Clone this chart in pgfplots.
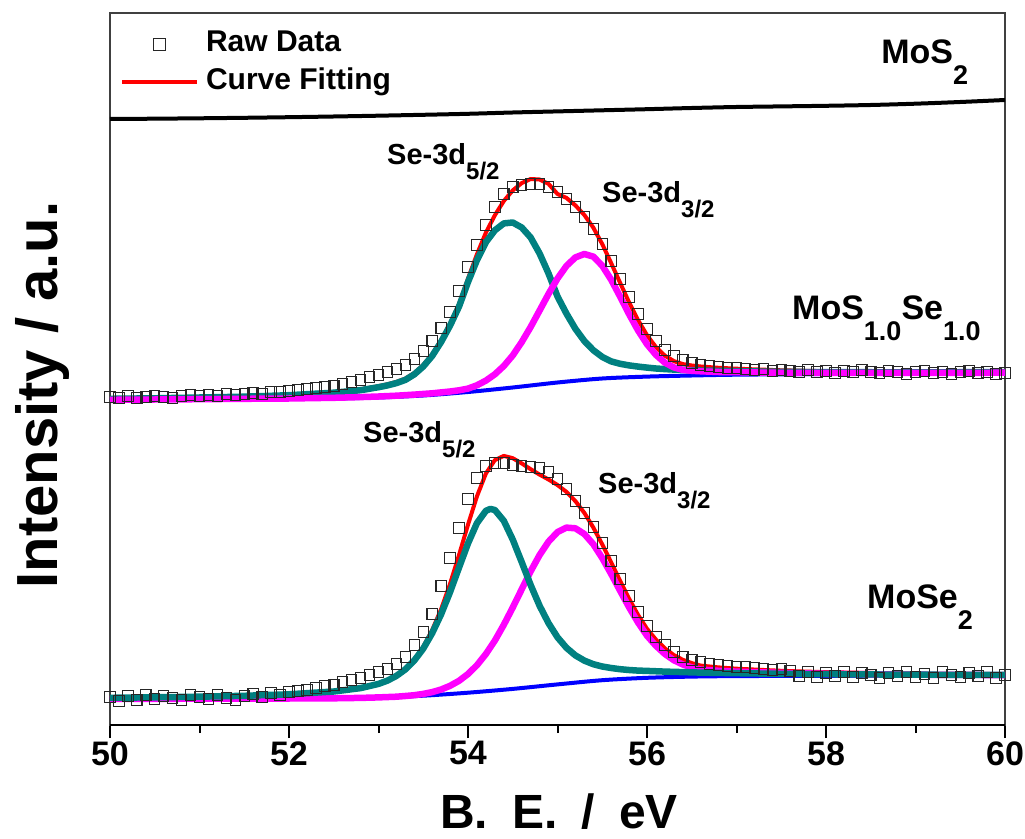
\documentclass[border=0pt]{standalone}
\usepackage{fontspec}
\setmainfont{Liberation Sans}
\usepackage{pgfplots}
\pgfplotsset{compat=1.18}
\usetikzlibrary{calc}
\definecolor{tealc}{RGB}{0,128,128}
\definecolor{magc}{RGB}{255,0,255}
\definecolor{redc}{RGB}{255,0,0}
\definecolor{bluec}{RGB}{0,0,255}
\newcommand{\fs}[1]{\fontsize{#1}{#1}\selectfont}
\newcommand{\subA}[1]{\raisebox{-15pt}{\fs{24}#1}}
\newcommand{\subB}[1]{\raisebox{-21pt}{\fs{27}#1}}
\pgfplotsset{
  sq legend/.style={legend image code/.code={\path[draw=none,fill=none] (0pt,0pt) -- (75pt,0pt); \draw[##1, mark size=6pt] plot coordinates {(37.5pt,0pt)};}},
  ln legend/.style={legend image code/.code={\draw[##1] (0pt,0pt) -- (75pt,0pt);}},
}
\begin{document}
\begin{tikzpicture}
\begin{axis}[name=ax, at={(0,0)}, anchor=south west,
  scale only axis, width=895pt, height=712pt,
  xmin=50, xmax=60, ymin=0, ymax=712, clip=false,
  axis line style={line width=1.5pt, black!75},
  xtick={50,52,54,56,58,60}, minor xtick={51,53,55,57,59},
  ytick=\empty, xtick pos=left, tick align=outside,
  major tick length=13pt, minor tick length=8pt,
  tick style={line width=2pt, black},
  /pgf/number format/assume math mode=true,
  xticklabel style={font=\fs{34}\bfseries},
  legend cell align=left,
  legend style={draw=none, fill=none, inner sep=0pt, outer sep=0pt,
    at={(axis cs:50.112,694.5)}, anchor=north west,
    font=\fs{30}\bfseries, row sep=10pt, column sep=7pt,
    nodes={inner sep=0pt, text height=21.5pt, text depth=6.5pt}},
]
\draw[line width=2.2pt, black] (rel axis cs:0,0) -- (rel axis cs:1,0);
% ---------- legend entries ----------
\addplot[only marks, mark=square, mark size=5.2pt, draw=black!85, line width=1.1pt, sq legend]
 coordinates {
(50.0,328)(50.1,327)(50.2,329)(50.3,327)(50.4,328)(50.5,329)(50.6,328)(50.7,327)(50.8,329)(50.9,330)
(51.0,329)(51.1,330)(51.2,329)(51.3,331)(51.4,330)(51.5,331)(51.6,332)(51.7,331)(51.8,333)(51.9,333)
(52.0,334)(52.1,335)(52.2,336)(52.3,337)(52.4,338)(52.5,339)(52.6,341)(52.7,343)(52.8,345)(52.9,348)
(53.0,350)(53.1,353)(53.2,356)(53.3,360)(53.4,366)(53.5,374)(53.6,384)(53.7,397)(53.8,413)(53.9,434)
(54.0,458)(54.1,480)(54.2,500)(54.3,518)(54.4,531)(54.5,538)(54.6,540)(54.7,541)(54.8,541)(54.9,538)
(55.0,533)(55.1,526)(55.2,518)(55.3,508)(55.4,496)(55.5,481)(55.6,464)(55.7,446)(55.8,428)(55.9,411)
(56.0,396)(56.1,384)(56.2,375)(56.3,369)(56.4,365)(56.5,362)(56.6,360)(56.7,359)(56.8,358)(56.9,357)
(57.0,357)(57.1,356)(57.2,355)(57.3,356)(57.4,354)(57.5,355)(57.6,354)(57.7,353)(57.8,355)(57.9,353)
(58.0,354)(58.1,352)(58.2,354)(58.3,353)(58.4,355)(58.5,353)(58.6,352)(58.7,354)(58.8,353)(58.9,351)
(59.0,353)(59.1,354)(59.2,352)(59.3,353)(59.4,351)(59.5,353)(59.6,354)(59.7,352)(59.8,353)(59.9,351)
(60.0,352)};
\addlegendentry{Raw Data}
\addplot[redc, line width=4pt, line join=round, ln legend]
 coordinates {
(50.0,326.4)(50.5,327.0)(51.0,327.8)(51.5,328.7)(52.0,330.3)(52.5,333.0)(52.8,335.7)(53.0,338.8)
(53.1,340.7)(53.2,343.1)(53.3,346.4)(53.4,352.0)(53.5,360.0)(53.6,370.7)(53.7,384.9)(53.8,401.5)
(53.9,421.0)(54.0,446.4)(54.1,470.7)(54.2,492.4)(54.3,509.7)(54.4,524.0)(54.5,534.6)(54.6,541.9)
(54.7,546.0)(54.8,545.5)(54.9,541.1)(55.0,531.0)(55.1,527.1)(55.2,519.6)(55.3,510.0)(55.4,497.4)
(55.5,480.9)(55.6,461.8)(55.7,442.1)(55.8,422.6)(55.9,404.9)(56.0,389.8)(56.1,377.9)(56.2,369.3)
(56.3,363.9)(56.4,360.9)(56.5,359.5)(56.6,358.5)(56.8,357.2)(57.0,356.3)(57.5,354.7)(58.0,353.8)
(59.0,353.2)(60.0,353.1)};
\addlegendentry{Curve Fitting}
% ---------- middle: MoS1.0Se1.0 ----------
\addplot[bluec, line width=4pt, smooth, forget plot] coordinates {
(50.0,325.0)(51.0,325.5)(52.0,326.0)(52.5,326.5)(53.0,327.5)(53.5,329.5)(54.0,333.0)(54.5,337.5)
(55.0,342.5)(55.5,346.5)(56.0,348.4)(56.5,349.5)(57.0,350.3)(58.0,351.0)(59.0,351.5)(60.0,352.0)};
\addplot[tealc, line width=6.5pt, line join=round, forget plot] coordinates {
(50.0,326.2)(50.5,326.7)(51.0,327.5)(51.5,328.3)(52.0,329.8)(52.5,332.3)(52.8,334.8)(53.0,337.8)
(53.1,339.6)(53.2,341.9)(53.3,345.1)(53.4,350.6)(53.5,358.5)(53.6,369.1)(53.7,383.1)(53.8,399.5)
(53.9,418.5)(54.0,443.0)(54.1,464.9)(54.2,482.8)(54.3,494.7)(54.4,501.6)(54.5,502.5)(54.6,497.5)
(54.7,487.5)(54.8,471.5)(54.9,451.5)(55.0,428.5)(55.1,411.4)(55.2,396.2)(55.3,384.0)(55.4,374.8)
(55.5,368.1)(55.6,363.6)(55.7,361.2)(55.8,359.6)(55.9,358.4)(56.0,357.4)(56.1,356.5)(56.2,355.9)
(56.3,355.4)(56.4,355.1)(56.5,354.8)(56.6,354.5)(56.8,354.2)(57.0,353.8)(57.5,353.2)(58.0,352.8)
(59.0,352.7)(60.0,352.8)};
\addplot[magc, line width=6.5pt, line join=round, forget plot] coordinates {
(50.0,325.2)(50.5,325.5)(51.0,325.8)(51.5,326.2)(52.0,326.5)(52.5,327.2)(52.8,327.9)(53.0,328.5)
(53.2,329.3)(53.4,330.4)(53.6,331.7)(53.8,333.5)(53.9,334.7)(54.0,336.4)(54.1,339.7)(54.2,344.4)
(54.3,350.7)(54.4,359.0)(54.5,369.6)(54.6,382.9)(54.7,398.0)(54.8,414.5)(54.9,431.1)(55.0,446.5)
(55.1,459.1)(55.2,467.6)(55.3,471.0)(55.4,468.4)(55.5,459.3)(55.6,445.2)(55.7,428.3)(55.8,410.8)
(55.9,394.6)(56.0,380.8)(56.1,370.1)(56.2,362.3)(56.3,357.6)(56.4,355.1)(56.5,354.2)(56.6,353.7)
(56.8,353.0)(57.0,352.8)(57.5,352.2)(58.0,352.0)(59.0,352.0)(60.0,352.3)};
% ---------- bottom: MoSe2 ----------
\addplot[only marks, mark=square, mark size=5.2pt, draw=black!85, line width=1.1pt, forget plot]
 coordinates {
(50.0,28)(50.1,24)(50.2,29)(50.3,25)(50.4,30)(50.5,26)(50.6,29)(50.7,27)(50.8,25)(50.9,30)
(51.0,28)(51.1,26)(51.2,30)(51.3,27)(51.4,25)(51.5,29)(51.6,31)(51.7,28)(51.8,32)(51.9,30)
(52.0,33)(52.1,34)(52.2,35)(52.3,37)(52.4,39)(52.5,40)(52.6,43)(52.7,45)(52.8,47)(52.9,50)
(53.0,53)(53.1,56)(53.2,61)(53.3,68)(53.4,80)(53.5,93)(53.6,111)(53.7,139)(53.8,167)(53.9,197)
(54.0,226)(54.1,247)(54.2,259)(54.3,262)(54.4,262)(54.5,260)(54.6,259)(54.7,258)(54.8,257)(54.9,253)
(55.0,246)(55.1,236)(55.2,224)(55.3,212)(55.4,198)(55.5,182)(55.6,164)(55.7,146)(55.8,129)(55.9,113)
(56.0,99)(56.1,88)(56.2,80)(56.3,73)(56.4,68)(56.5,65)(56.6,63)(56.7,61)(56.8,60)(56.9,59)
(57.0,58)(57.1,58)(57.2,57)(57.3,56)(57.4,55)(57.5,56)(57.6,54)(57.7,49)(57.8,53)(57.9,48)
(58.0,52)(58.1,49)(58.2,53)(58.3,48)(58.4,52)(58.5,50)(58.6,47)(58.7,52)(58.8,49)(58.9,53)
(59.0,48)(59.1,51)(59.2,47)(59.3,53)(59.4,50)(59.5,48)(59.6,52)(59.7,49)(59.8,53)(59.9,47)
(60.0,50)};
\addplot[redc, line width=4pt, line join=round, forget plot] coordinates {
(50.0,27.3)(50.5,27.8)(51.0,28.4)(51.5,29.3)(52.0,30.8)(52.5,33.6)(52.8,37.0)(53.0,41.3)
(53.1,44.6)(53.2,49.4)(53.3,56.2)(53.4,65.5)(53.5,78.2)(53.6,95.0)(53.7,115.9)(53.8,141.3)
(53.9,170.1)(54.0,200.3)(54.1,228.7)(54.2,251.5)(54.3,264.9)(54.4,269.1)(54.5,266.8)(54.6,261.6)
(54.7,255.8)(54.8,250.4)(54.9,245.5)(55.0,240.0)(55.1,233.1)(55.2,223.9)(55.3,212.1)(55.4,197.5)
(55.5,180.6)(55.6,162.6)(55.7,144.1)(55.8,126.3)(55.9,110.1)(56.0,96.2)(56.1,85.4)(56.2,76.6)
(56.3,69.9)(56.4,65.2)(56.5,61.9)(56.6,59.4)(56.8,57.6)(57.0,56.3)(57.5,54.2)(58.0,52.8)
(59.0,51.3)(60.0,50.6)};
\addplot[bluec, line width=4pt, smooth, forget plot] coordinates {
(50.0,26.0)(51.0,26.2)(52.0,26.4)(52.5,26.6)(53.0,27.4)(53.5,29.3)(54.0,32.3)(54.5,36.1)
(55.0,40.6)(55.5,44.8)(56.0,47.2)(56.5,48.4)(57.0,48.9)(58.0,49.2)(59.0,49.3)(60.0,49.4)};
\addplot[magc, line width=6.5pt, line join=round, forget plot] coordinates {
(50.0,26.1)(51.0,26.3)(52.0,26.5)(52.5,26.7)(52.8,27.1)(53.0,27.6)(53.2,28.3)(53.3,29.0)
(53.4,29.8)(53.5,31.1)(53.6,32.9)(53.7,35.5)(53.8,39.2)(53.9,44.2)(54.0,51.0)(54.1,59.8)
(54.2,71.0)(54.3,84.4)(54.4,100.2)(54.5,117.5)(54.6,135.7)(54.7,153.7)(54.8,170.0)(54.9,183.4)
(55.0,192.9)(55.1,197.4)(55.2,196.7)(55.3,191.0)(55.4,180.8)(55.5,166.9)(55.6,151.0)(55.7,134.2)
(55.8,117.7)(55.9,102.5)(56.0,89.3)(56.1,79.2)(56.2,71.0)(56.3,64.8)(56.4,60.5)(56.5,57.6)
(56.6,55.5)(56.8,54.2)(57.0,53.4)(57.5,52.1)(58.0,51.2)(59.0,50.3)(60.0,49.9)};
\addplot[tealc, line width=6.5pt, line join=round, forget plot] coordinates {
(50.0,27.2)(50.5,27.7)(51.0,28.3)(51.5,29.2)(52.0,30.7)(52.5,33.5)(52.8,36.9)(53.0,41.1)
(53.1,44.4)(53.2,49.1)(53.3,55.6)(53.4,64.5)(53.5,76.4)(53.6,91.9)(53.7,110.8)(53.8,133.1)
(53.9,157.5)(54.0,181.6)(54.1,201.9)(54.2,214.2)(54.25,216.1)(54.3,215.0)(54.4,204.2)(54.5,185.4)
(54.6,162.9)(54.7,140.0)(54.8,119.2)(54.9,101.8)(55.0,87.7)(55.1,77.2)(55.2,69.6)(55.3,64.4)
(55.4,60.8)(55.5,58.5)(55.6,57.0)(55.7,55.8)(55.8,55.0)(55.9,54.4)(56.0,54.1)(56.2,53.4)
(56.4,52.9)(56.6,52.4)(57.0,51.8)(57.5,51.2)(58.0,50.8)(59.0,50.3)(60.0,50.1)};
% ---------- top: MoS2 ----------
\addplot[black, line width=4pt, smooth, forget plot] coordinates {
(50.0,606.0)(50.5,606.3)(51.0,606.7)(51.5,607.2)(52.0,607.8)(52.5,608.5)(53.0,609.3)(53.5,610.2)
(54.0,611.2)(54.5,612.5)(55.0,613.6)(55.5,614.7)(56.0,615.8)(56.5,617.0)(57.0,618.0)(57.5,618.6)
(58.0,619.2)(58.5,620.0)(59.0,621.3)(59.5,623.0)(60.0,625.0)};
% ---------- labels ----------
\node[anchor=base west, inner sep=0pt, font=\fs{34}\bfseries] at (axis cs:58.615,661) {MoS\subB{2}};
\node[anchor=base west, inner sep=0pt, font=\fs{29}\bfseries] at (axis cs:53.095,560) {Se-3d\subA{5/2}};
\node[anchor=base west, inner sep=0pt, font=\fs{29}\bfseries] at (axis cs:55.497,522) {Se-3d\subA{3/2}};
\node[anchor=base west, inner sep=0pt, font=\fs{34}\bfseries] at (axis cs:57.62,405) {MoS\subB{1.0}Se\subB{1.0}};
\node[anchor=base west, inner sep=0pt, font=\fs{29}\bfseries] at (axis cs:52.827,282) {Se-3d\subA{5/2}};
\node[anchor=base west, inner sep=0pt, font=\fs{29}\bfseries] at (axis cs:55.453,232) {Se-3d\subA{3/2}};
\node[anchor=base west, inner sep=0pt, font=\fs{34}\bfseries] at (axis cs:58.458,117) {MoSe\subB{2}};
\node[rotate=90, anchor=base, inner sep=0pt, font=\fs{58}\bfseries] at (axis description cs:-0.0592,0.4635) {Intensity / a.u.};
\node[anchor=base, inner sep=0pt, font=\fs{48}\bfseries] at (axis description cs:0.5017,-0.1447) {B.\hspace{24pt}E.\hspace{24pt}/\hspace{24pt}eV};
\end{axis}
\pgfresetboundingbox
\path ($(ax.south west)+(-110pt,-113pt)$) rectangle ($(ax.south west)+(915pt,725pt)$);
\end{tikzpicture}
\end{document}
